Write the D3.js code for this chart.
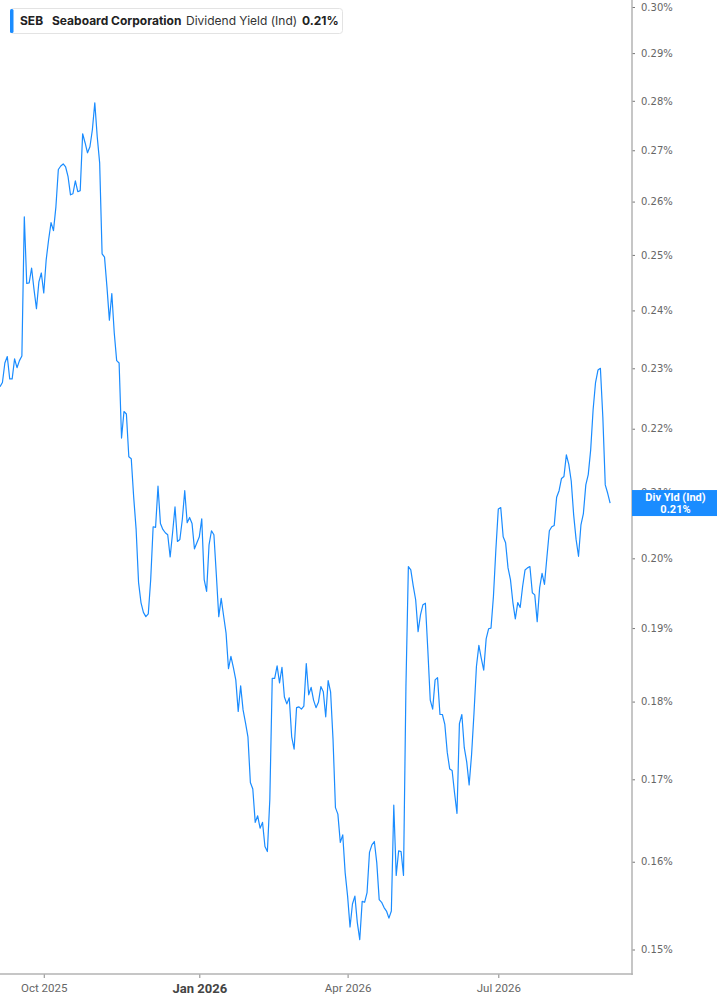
<!DOCTYPE html>
<html>
<head>
<meta charset="utf-8">
<script src="https://cdn.jsdelivr.net/npm/d3@7"></script>
<style>
  body { margin: 0; background: #fff; }
  svg { display: block; }
</style>
</head>
<body>
<div id="chart"></div>
<script>
var svgWidth = 717;
var svgHeight = 1005;

// Data: first session, market holidays, one dividend yield value (%) per session
var startDate = "2025-09-05";
var holidays = ["2025-11-27", "2025-12-25", "2026-01-01", "2026-01-19", "2026-02-16",
  "2026-04-03", "2026-05-25", "2026-06-19", "2026-07-03", "2026-09-07"];

var yieldValues = [
  // Sep - Nov 2025
  0.2269, 0.2276, 0.2309, 0.2320, 0.2282, 0.2282, 0.2316, 0.2301, 0.2313, 0.2321,
  0.2571, 0.2448, 0.2449, 0.2476, 0.2437, 0.2403, 0.2451, 0.2467, 0.2431, 0.2491,
  0.2528, 0.2560, 0.2545, 0.2590, 0.2662, 0.2669, 0.2673, 0.2667, 0.2648, 0.2613,
  0.2615, 0.2640, 0.2619, 0.2621, 0.2733, 0.2715, 0.2695, 0.2707, 0.2741, 0.2796,
  0.2727, 0.2675, 0.2502, 0.2496, 0.2442, 0.2383, 0.2430, 0.2361, 0.2313, 0.2309,
  // Nov 2025 - Jan 2026
  0.2185, 0.2228, 0.2224, 0.2155, 0.2152, 0.2092, 0.2043, 0.1965, 0.1936, 0.1922,
  0.1916, 0.1920, 0.1969, 0.2047, 0.2046, 0.2109, 0.2052, 0.2043, 0.2038, 0.2035,
  0.2002, 0.2038, 0.2077, 0.2025, 0.2028, 0.2058, 0.2102, 0.2053, 0.2061, 0.2052,
  0.2014, 0.2023, 0.2032, 0.2059, 0.1969, 0.1952, 0.2020, 0.2041, 0.2035, 0.1976,
  0.1916, 0.1942, 0.1917, 0.1893, 0.1844, 0.1861, 0.1846, 0.1829,
  // Jan - Mar 2026
  0.1787, 0.1821, 0.1789, 0.1772, 0.1754, 0.1696, 0.1688, 0.1647, 0.1655, 0.1640,
  0.1647, 0.1618, 0.1612, 0.1675, 0.1831, 0.1831, 0.1848, 0.1825, 0.1846, 0.1806,
  0.1797, 0.1805, 0.1754, 0.1738, 0.1792, 0.1793, 0.1790, 0.1794, 0.1851, 0.1809,
  0.1819, 0.1802, 0.1792, 0.1799, 0.1820, 0.1813, 0.1780, 0.1828, 0.1813, 0.1751,
  0.1665, 0.1657, 0.1623, 0.1632,
  // Mar - Jun 2026
  0.1587, 0.1560, 0.1525, 0.1551, 0.1560, 0.1530, 0.1511, 0.1554, 0.1553, 0.1564,
  0.1611, 0.1620, 0.1624, 0.1599, 0.1556, 0.1553, 0.1547, 0.1543, 0.1535, 0.1543,
  0.1668, 0.1584, 0.1613, 0.1612, 0.1584, 0.1820, 0.1988, 0.1983, 0.1960, 0.1940,
  0.1895, 0.1919, 0.1933, 0.1935, 0.1870, 0.1802, 0.1790, 0.1829, 0.1832, 0.1783,
  0.1783, 0.1770, 0.1734, 0.1713, 0.1711, 0.1683, 0.1658, 0.1771, 0.1783, 0.1740,
  0.1722, 0.1693,
  // Jun - Sep 2026
  0.1731, 0.1785, 0.1847, 0.1876, 0.1858, 0.1842, 0.1885, 0.1899, 0.1900, 0.1945,
  0.2013, 0.2074, 0.2076, 0.2032, 0.2023, 0.1986, 0.1969, 0.1936, 0.1913, 0.1936,
  0.1929, 0.1959, 0.1983, 0.1986, 0.1988, 0.1950, 0.1947, 0.1909, 0.1957, 0.1978,
  0.1962, 0.2002, 0.2041, 0.2047, 0.2049, 0.2092, 0.2102, 0.2121, 0.2124, 0.2158,
  0.2143, 0.2117, 0.2065, 0.2028, 0.2003, 0.2050, 0.2067, 0.2111, 0.2127, 0.2166,
  0.2231, 0.2276, 0.2297, 0.2300, 0.2219, 0.2111, 0.2098, 0.2083
];

var yTicks = [0.15, 0.16, 0.17, 0.18, 0.19, 0.20, 0.21, 0.22, 0.23, 0.24, 0.25, 0.26, 0.27, 0.28, 0.29, 0.30];
var xTickMonths = [0, 3, 6, 9]; // Jan, Apr, Jul, Oct

var legendTicker = "SEB";
var legendName = "Seaboard Corporation";
var legendMetric = "Dividend Yield (Ind)";
var lastLabel = "Div Yld (Ind)";

var lineColor = "#1a8cff";
var axisColor = "#b3b3b3";

// plot area
var plotRight = 632;
var plotBottom = 974;
var emptySlots = 9; // blank sessions on the right

// build the trading session calendar
var parseDate = d3.utcParse("%Y-%m-%d");
var holidaySet = new Set(holidays);
var dates = [];
var day = parseDate(startDate);
while (dates.length < yieldValues.length) {
  var wd = day.getUTCDay();
  if (wd !== 0 && wd !== 6 && !holidaySet.has(d3.utcFormat("%Y-%m-%d")(day))) {
    dates.push(day);
  }
  day = d3.utcDay.offset(day, 1);
}

var data = yieldValues.map(function(v, i) {
  return { i: i, date: dates[i], value: v };
});

var svg = d3.select("#chart")
  .append("svg")
  .attr("width", svgWidth)
  .attr("height", svgHeight);

// scales
var xScale = d3.scaleLinear()
  .domain([0, data.length - 1 + emptySlots])
  .range([0, plotRight]);

var yScale = d3.scaleLog()
  .domain([0.15, 0.30])
  .range([949.5, 7]);

// x tick positions: first session of each quarter month
var xTickIdx = [];
data.forEach(function(d, i) {
  if (i > 0 && d.date.getUTCMonth() !== data[i - 1].date.getUTCMonth()
      && xTickMonths.indexOf(d.date.getUTCMonth()) >= 0) {
    xTickIdx.push(i);
  }
});

// bottom axis
var xAxis = d3.axisBottom(xScale)
  .tickValues(xTickIdx)
  .tickSize(4)
  .tickFormat(function(i) { return d3.utcFormat("%b %Y")(data[i].date); });

var xAxisG = svg.append("g")
  .attr("transform", `translate(0, ${plotBottom})`)
  .call(xAxis);

xAxisG.select(".domain").remove();
xAxisG.selectAll(".tick line").attr("stroke", "#888");
xAxisG.selectAll(".tick text")
  .attr("y", 10)
  .attr("dy", "0.71em")
  .attr("fill", "#666")
  .style("font-family", "Roboto, sans-serif")
  .style("font-size", "11.5px")
  .each(function(i) {
    if (data[i].date.getUTCMonth() === 0) {
      d3.select(this)
        .attr("fill", "#444")
        .style("font-weight", "bold")
        .style("font-size", "13px");
    }
  });

// right axis
var yAxis = d3.axisRight(yScale)
  .tickValues(yTicks)
  .tickSize(3)
  .tickPadding(6)
  .tickFormat(function(d) { return d.toFixed(2) + "%"; });

var yAxisG = svg.append("g")
  .attr("transform", `translate(${plotRight}, 0)`)
  .call(yAxis);

yAxisG.select(".domain").remove();
yAxisG.selectAll(".tick line").attr("stroke", "#777");
yAxisG.selectAll(".tick text")
  .attr("fill", "#666")
  .style("font-family", "'DejaVu Sans', sans-serif")
  .style("font-size", "10px");

// frame lines
svg.append("line")
  .attr("x1", plotRight).attr("x2", plotRight)
  .attr("y1", 0).attr("y2", plotBottom + 1)
  .attr("stroke", axisColor)
  .attr("stroke-width", 1.5);

svg.append("line")
  .attr("x1", 0).attr("x2", plotRight + 0.75)
  .attr("y1", plotBottom).attr("y2", plotBottom)
  .attr("stroke", axisColor)
  .attr("stroke-width", 1.5);

// the yield line
var line = d3.line()
  .x(d => xScale(d.i))
  .y(d => yScale(d.value));

svg.append("path")
  .datum(data)
  .attr("fill", "none")
  .attr("stroke", lineColor)
  .attr("stroke-width", 1.2)
  .attr("stroke-linejoin", "round")
  .attr("d", line);

// last value label on the axis
var last = data[data.length - 1];
var lastY = yScale(last.value);
var labelG = svg.append("g")
  .attr("transform", `translate(${plotRight}, ${lastY})`);

labelG.append("rect")
  .attr("x", 0)
  .attr("y", -13)
  .attr("width", svgWidth - plotRight)
  .attr("height", 26)
  .attr("fill", lineColor);

labelG.append("text")
  .attr("x", (svgWidth - plotRight) / 2 + 1)
  .attr("y", -2)
  .attr("text-anchor", "middle")
  .attr("fill", "#fff")
  .style("font-family", "Roboto, sans-serif")
  .style("font-weight", "bold")
  .style("font-size", "11px")
  .text(lastLabel);

labelG.append("text")
  .attr("x", (svgWidth - plotRight) / 2 + 1)
  .attr("y", 10)
  .attr("text-anchor", "middle")
  .attr("fill", "#fff")
  .style("font-family", "Roboto, sans-serif")
  .style("font-weight", "bold")
  .style("font-size", "11px")
  .text(last.value.toFixed(2) + "%");

// legend box
var legend = svg.append("g");

legend.append("rect")
  .attr("x", 10.5)
  .attr("y", 8.5)
  .attr("width", 332)
  .attr("height", 25)
  .attr("rx", 3)
  .attr("fill", "#fff")
  .attr("stroke", "#e3e3e3");

legend.append("rect")
  .attr("x", 10)
  .attr("y", 9)
  .attr("width", 3.5)
  .attr("height", 24)
  .attr("rx", 1.5)
  .attr("fill", lineColor);

var legendText = legend.append("text")
  .attr("y", 25)
  .attr("fill", "#222")
  .style("font-family", "Inter, Roboto, sans-serif")
  .style("font-size", "12px");

legendText.append("tspan")
  .attr("x", 20)
  .style("font-weight", "bold")
  .text(legendTicker);

legendText.append("tspan")
  .attr("x", 52)
  .style("font-weight", "bold")
  .text(legendName);

legendText.append("tspan")
  .attr("x", 186)
  .attr("fill", "#333")
  .text(legendMetric);

legendText.append("tspan")
  .attr("x", 302)
  .style("font-weight", "bold")
  .text(last.value.toFixed(2) + "%");
</script>
</body>
</html>
